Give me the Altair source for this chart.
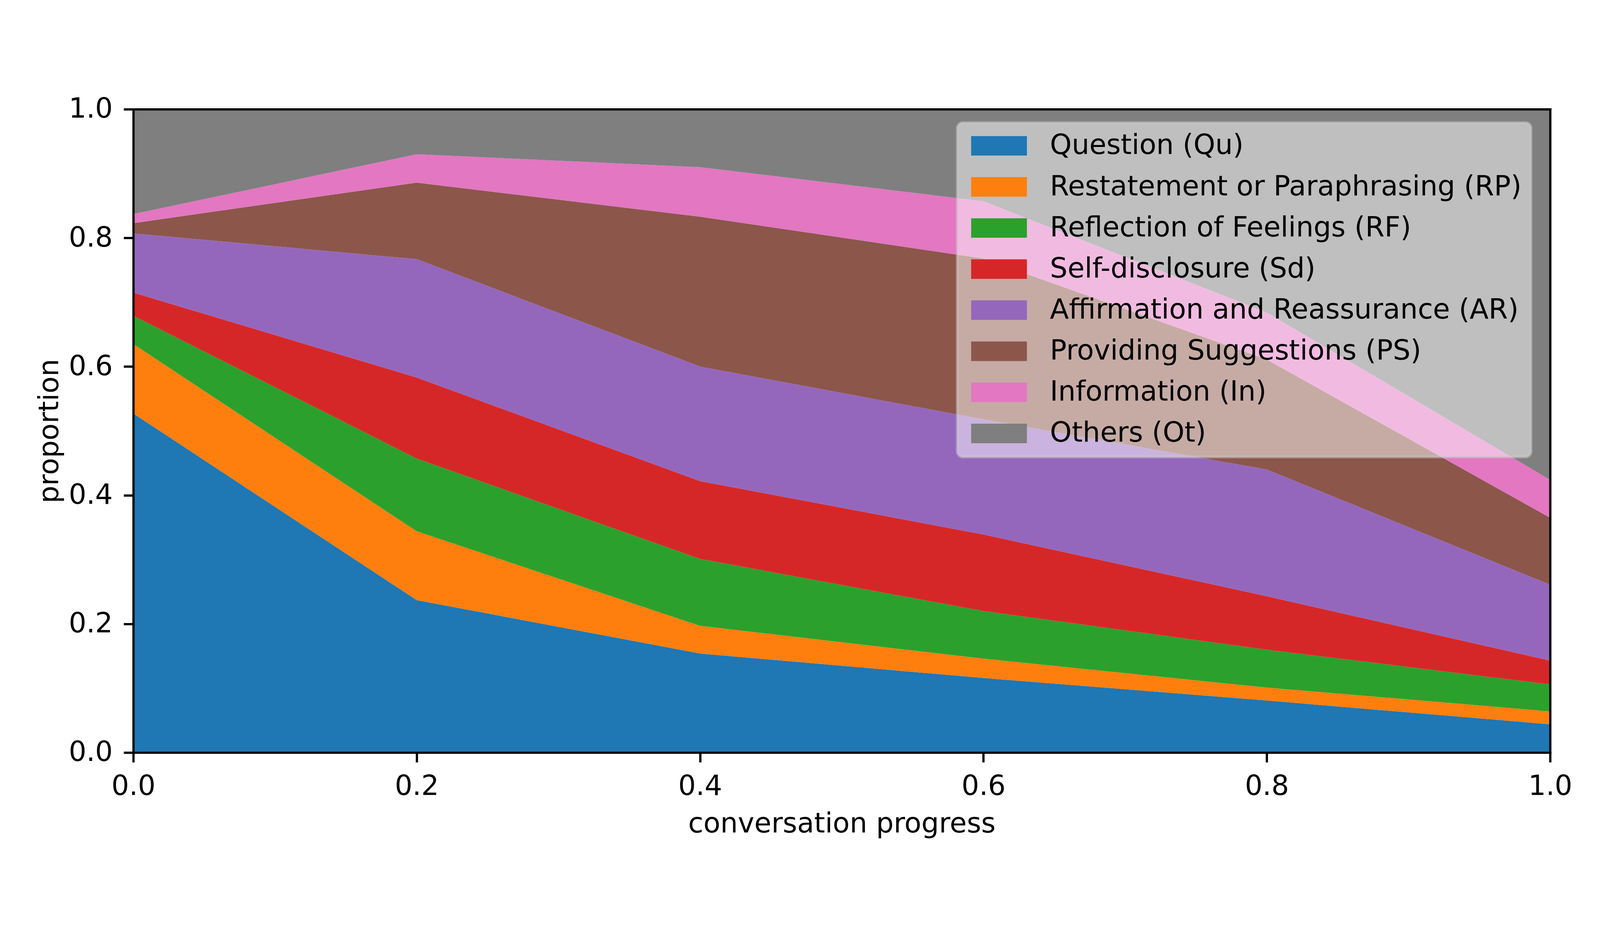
import altair as alt
import pandas as pd

progress = [0.0, 0.2, 0.4, 0.6, 0.8, 1.0]
categories = [
    "Question (Qu)",
    "Restatement or Paraphrasing (RP)",
    "Reflection of Feelings (RF)",
    "Self-disclosure (Sd)",
    "Affirmation and Reassurance (AR)",
    "Providing Suggestions (PS)",
    "Information (In)",
    "Others (Ot)",
]
colors = ["#1f77b4", "#ff7f0e", "#2ca02c", "#d62728",
          "#9467bd", "#8c564b", "#e377c2", "#7f7f7f"]

qu = [0.527, 0.237, 0.154, 0.116, 0.081, 0.044]
rp = [0.108, 0.107, 0.043, 0.030, 0.020, 0.020]
rf = [0.044, 0.113, 0.104, 0.074, 0.059, 0.042]
sd = [0.036, 0.126, 0.121, 0.119, 0.083, 0.037]
ar = [0.092, 0.184, 0.178, 0.179, 0.197, 0.118]
ps = [0.016, 0.119, 0.233, 0.250, 0.171, 0.104]
info = [0.014, 0.044, 0.077, 0.089, 0.073, 0.059]
ot = [0.163, 0.070, 0.090, 0.143, 0.316, 0.576]

series = [qu, rp, rf, sd, ar, ps, info, ot]
tick_values = [0.0, 0.2, 0.4, 0.6, 0.8, 1.0]

rows = []
for i, (cat, vals) in enumerate(zip(categories, series)):
    for p, v in zip(progress, vals):
        rows.append({"progress": p, "category": cat, "value": v, "idx": i})
df = pd.DataFrame(rows)

FS = 83
LW = 6.7

base = alt.Chart(df)

area = base.mark_area(strokeWidth=0, opacity=1, interpolate="linear").encode(
    x=alt.X("progress:Q",
            scale=alt.Scale(domain=[0, 1], nice=False, zero=False),
            axis=alt.Axis(values=tick_values, format=".1f", title="conversation progress",
                          labelPadding=31, titlePadding=30, labelFlush=False, zindex=1)),
    y=alt.Y("value:Q", stack="zero",
            scale=alt.Scale(domain=[0, 1], nice=False),
            axis=alt.Axis(values=tick_values, format=".1f", title="proportion",
                          labelPadding=33, titlePadding=15, labelFlush=False, zindex=1)),
    color=alt.Color("category:N",
                    scale=alt.Scale(domain=categories, range=colors),
                    sort=categories,
                    legend=alt.Legend(title=None, orient="none", legendX=2468, legendY=40)),
    order=alt.Order("idx:Q", sort="ascending"),
)

frame = base.mark_line(opacity=0).encode(
    x=alt.X("progress:Q",
            axis=alt.Axis(orient="top", labels=False, ticks=False, title=None,
                          domain=True, zindex=1)),
    y=alt.Y("value:Q",
            axis=alt.Axis(orient="right", labels=False, ticks=False, title=None,
                          domain=True, zindex=1)),
)

chart = (
    alt.layer(area, frame)
    .resolve_axis(x="independent", y="independent")
    .properties(
        width=4244, height=1926,
        autosize=alt.AutoSizeParams(type="none"),
        padding={"left": 390, "top": 116, "right": 140, "bottom": 330},
        background="white",
    )
    .configure_view(strokeWidth=0)
    .configure_axis(
        labelFont="DejaVu Sans", labelFontSize=FS, labelColor="black",
        titleFont="DejaVu Sans", titleFontSize=FS, titleFontWeight="normal",
        titleColor="black", tickColor="black", tickSize=29, tickWidth=LW,
        domainColor="black", domainWidth=LW, domainCap="square", grid=False,
    )
    .configure_legend(
        fillColor="rgba(255,255,255,0.5)",
        strokeColor="rgba(204,204,204,0.5)",
        strokeWidth=8, cornerRadius=17, padding=28,
        symbolType="M-3,-1.05H3V1.05H-3Z",
        symbolSize=3100, symbolOffset=55.7,
        symbolStrokeWidth=0, symbolOpacity=1,
        labelFont="DejaVu Sans", labelFontSize=FS,
        labelColor="black", labelLimit=3000,
        labelOffset=111, rowPadding=39,
    )
)

chart.save("out.html", embed_options={"renderer": "svg", "actions": False})
